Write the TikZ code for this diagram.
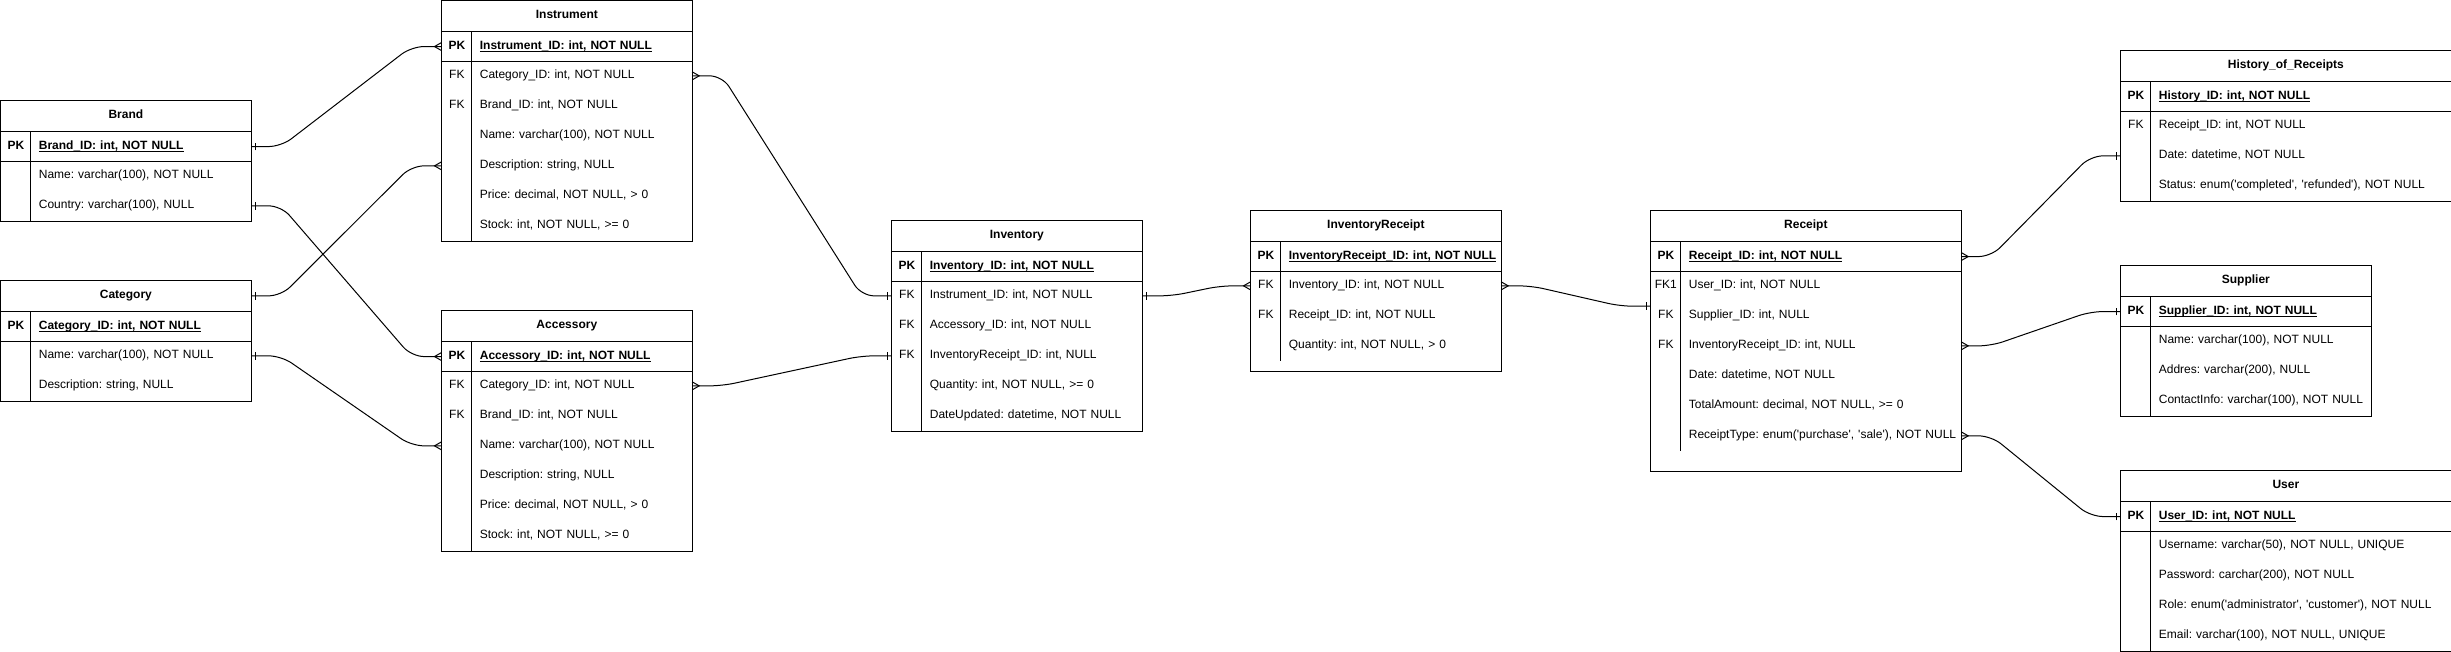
\documentclass[tikz,border=0pt]{standalone}
\usepackage{fontspec}
\setmainfont{Liberation Sans}[Ligatures=TeXOff]
\usepackage{tikz}
\usetikzlibrary{positioning,decorations.markings}
\newcommand{\tabfont}{\fontsize{6.83}{8.2}\selectfont\frenchspacing}
\newcommand{\keycol}[1]{\makebox[0.6cm][c]{#1}\hspace{0.16cm}}
\newcommand{\pkfield}[1]{\setbox0=\hbox{#1}\rlap{\rule[-1.25pt]{\wd0}{0.5pt}}\box0}
\tikzset{
  tline/.style={draw=black, line width=0.57pt},
  ttitle/.style={anchor=north west, inner sep=0pt, minimum height=0.6cm, text width=#1,
                 text height=5pt, text depth=1.5pt, align=center, font=\tabfont\bfseries},
  trow/.style={anchor=north west, inner sep=0pt, minimum height=0.6cm, text width=#1,
               text height=5pt, text depth=1.5pt, align=left, font=\tabfont},
  pkrow/.style={trow=#1, font=\tabfont\bfseries},
  rel/.style={line width=0.57pt, rounded corners=0.25cm},
  onestart/.style={postaction={decorate, decoration={markings, mark=at position 0 with
    {\draw[line width=0.57pt, sharp corners] (0.08cm,-0.075cm) -- (0.08cm,0.075cm);}}}},
  oneend/.style={postaction={decorate, decoration={markings, mark=at position 1 with
    {\draw[line width=0.57pt, sharp corners] (-0.08cm,-0.075cm) -- (-0.08cm,0.075cm);}}}},
  manystart/.style={postaction={decorate, decoration={markings, mark=at position 0 with
    {\draw[line width=0.57pt, sharp corners] (0,0.08cm) -- (0.14cm,0) -- (0,-0.08cm);}}}},
  manyend/.style={postaction={decorate, decoration={markings, mark=at position 1 with
    {\draw[line width=0.57pt, sharp corners] (0,0.08cm) -- (-0.14cm,0) -- (0,-0.08cm);}}}},
}

\begin{document}
\begin{tikzpicture}[x=1cm, y=-1cm]
\useasboundingbox (-0.01,-0.01) rectangle (49.01,13.01);

\node[ttitle=5cm] (br) at (0,2) {Brand};
\node[pkrow=5cm, below=0pt of br] (br-0) {\keycol{PK}\pkfield{Brand\_ID: int, NOT NULL}};
\foreach \ky/\fd [count=\i] in {/{Name: varchar(100), NOT NULL}, /{Country: varchar(100), NULL}}
  \node[trow=5cm] (br-\i) at (0,{2.6+0.6*\i}) {\keycol{\ky}\mbox{\fd}};

\node[ttitle=5cm] (ca) at (0,5.6) {Category};
\node[pkrow=5cm, below=0pt of ca] (ca-0) {\keycol{PK}\pkfield{Category\_ID: int, NOT NULL}};
\foreach \ky/\fd [count=\i] in {/{Name: varchar(100), NOT NULL}, /{Description: string, NULL}}
  \node[trow=5cm] (ca-\i) at (0,{6.2+0.6*\i}) {\keycol{\ky}\mbox{\fd}};

\node[ttitle=5cm] (ins) at (8.82,0) {Instrument};
\node[pkrow=5cm, below=0pt of ins] (ins-0) {\keycol{PK}\pkfield{Instrument\_ID: int, NOT NULL}};
\foreach \ky/\fd [count=\i] in {FK/{Category\_ID: int, NOT NULL}, FK/{Brand\_ID: int, NOT NULL},
    /{Name: varchar(100), NOT NULL}, /{Description: string, NULL},
    /{Price: decimal, NOT NULL, > 0}, /{Stock: int, NOT NULL, >= 0}}
  \node[trow=5cm] (ins-\i) at (8.82,{0.6+0.6*\i}) {\keycol{\ky}\mbox{\fd}};

\node[ttitle=5cm] (ac) at (8.82,6.2) {Accessory};
\node[pkrow=5cm, below=0pt of ac] (ac-0) {\keycol{PK}\pkfield{Accessory\_ID: int, NOT NULL}};
\foreach \ky/\fd [count=\i] in {FK/{Category\_ID: int, NOT NULL}, FK/{Brand\_ID: int, NOT NULL},
    /{Name: varchar(100), NOT NULL}, /{Description: string, NULL},
    /{Price: decimal, NOT NULL, > 0}, /{Stock: int, NOT NULL, >= 0}}
  \node[trow=5cm] (ac-\i) at (8.82,{6.8+0.6*\i}) {\keycol{\ky}\mbox{\fd}};

\node[ttitle=5cm] (iv) at (17.82,4.4) {Inventory};
\node[pkrow=5cm, below=0pt of iv] (iv-0) {\keycol{PK}\pkfield{Inventory\_ID: int, NOT NULL}};
\foreach \ky/\fd [count=\i] in {FK/{Instrument\_ID: int, NOT NULL}, FK/{Accessory\_ID: int, NOT NULL},
    FK/{InventoryReceipt\_ID: int, NULL}, /{Quantity: int, NOT NULL, >= 0},
    /{DateUpdated: datetime, NOT NULL}}
  \node[trow=5cm] (iv-\i) at (17.82,{5.0+0.6*\i}) {\keycol{\ky}\mbox{\fd}};

\node[ttitle=5cm] (ir) at (25,4.2) {InventoryReceipt};
\node[pkrow=5cm, below=0pt of ir] (ir-0) {\keycol{PK}\pkfield{InventoryReceipt\_ID: int, NOT NULL}};
\foreach \ky/\fd [count=\i] in {FK/{Inventory\_ID: int, NOT NULL}, FK/{Receipt\_ID: int, NOT NULL},
    /{Quantity: int, NOT NULL, > 0}}
  \node[trow=5cm] (ir-\i) at (25,{4.8+0.6*\i}) {\keycol{\ky}\mbox{\fd}};

\node[ttitle=6.2cm] (rc) at (33,4.2) {Receipt};
\node[pkrow=6.2cm, below=0pt of rc] (rc-0) {\keycol{PK}\pkfield{Receipt\_ID: int, NOT NULL}};
\foreach \ky/\fd [count=\i] in {FK1/{User\_ID: int, NOT NULL}, FK/{Supplier\_ID: int, NULL},
    FK/{InventoryReceipt\_ID: int, NULL}, /{Date: datetime, NOT NULL},
    /{TotalAmount: decimal, NOT NULL, >= 0}, /{ReceiptType: enum('purchase', 'sale'), NOT NULL}}
  \node[trow=6.2cm] (rc-\i) at (33,{4.8+0.6*\i}) {\keycol{\ky}\mbox{\fd}};

\node[ttitle=6.6cm] (hi) at (42.4,1) {History\_of\_Receipts};
\node[pkrow=6.6cm, below=0pt of hi] (hi-0) {\keycol{PK}\pkfield{History\_ID: int, NOT NULL}};
\foreach \ky/\fd [count=\i] in {FK/{Receipt\_ID: int, NOT NULL}, /{Date: datetime, NOT NULL},
    /{Status: enum('completed', 'refunded'), NOT NULL}}
  \node[trow=6.6cm] (hi-\i) at (42.4,{1.6+0.6*\i}) {\keycol{\ky}\mbox{\fd}};

\node[ttitle=5cm] (su) at (42.4,5.3) {Supplier};
\node[pkrow=5cm, below=0pt of su] (su-0) {\keycol{PK}\pkfield{Supplier\_ID: int, NOT NULL}};
\foreach \ky/\fd [count=\i] in {/{Name: varchar(100), NOT NULL}, /{Addres: varchar(200), NULL},
    /{ContactInfo: varchar(100), NOT NULL}}
  \node[trow=5cm] (su-\i) at (42.4,{5.9+0.6*\i}) {\keycol{\ky}\mbox{\fd}};

\node[ttitle=6.6cm] (us) at (42.4,9.4) {User};
\node[pkrow=6.6cm, below=0pt of us] (us-0) {\keycol{PK}\pkfield{User\_ID: int, NOT NULL}};
\foreach \ky/\fd [count=\i] in {/{Username: varchar(50), NOT NULL, UNIQUE}, /{Password: carchar(200), NOT NULL},
    /{Role: enum('administrator', 'customer'), NOT NULL}, /{Email: varchar(100), NOT NULL, UNIQUE}}
  \node[trow=6.6cm] (us-\i) at (42.4,{10+0.6*\i}) {\keycol{\ky}\mbox{\fd}};

\foreach \tb/\n/\p in {br/2/0, ca/2/0, ins/6/0, ac/6/0, iv/5/0, ir/3/0.2, rc/6/0.4, hi/3/0, su/3/0, us/4/0} {
  \draw[tline] (\tb.north west) rectangle ([yshift=-\p cm]\tb-\n.south east);
  \draw[tline] (\tb.south west) -- (\tb.south east) (\tb-0.south west) -- (\tb-0.south east)
    ([xshift=0.6cm]\tb-0.north west) -- ([xshift=0.6cm]\tb-\n.south west);
}

\foreach \a/\b in {br-0/ins-0, ca/ins-4, br-2/ac-0, ca-1/ac-3, iv-1/ir-1}
  \draw[rel, onestart, manyend] (\a.east) -- ++(0.6,0) -- ([xshift=-0.6cm]\b.west) -- (\b.west);
\foreach \a/\b in {ins-1/iv-1, ac-1/iv-3, rc-0/hi-2, rc-3/su-0, rc-6/us-0}
  \draw[rel, manystart, oneend] (\a.east) -- ++(0.6,0) -- ([xshift=-0.6cm]\b.west) -- (\b.west);
\coordinate (rc-in) at ([yshift=-0.1cm]rc-1.south west);
\draw[rel, manystart, oneend] (ir-1.east) -- ++(0.6,0) -- ([xshift=-0.6cm]rc-in) -- (rc-in);
\end{tikzpicture}
\end{document}
